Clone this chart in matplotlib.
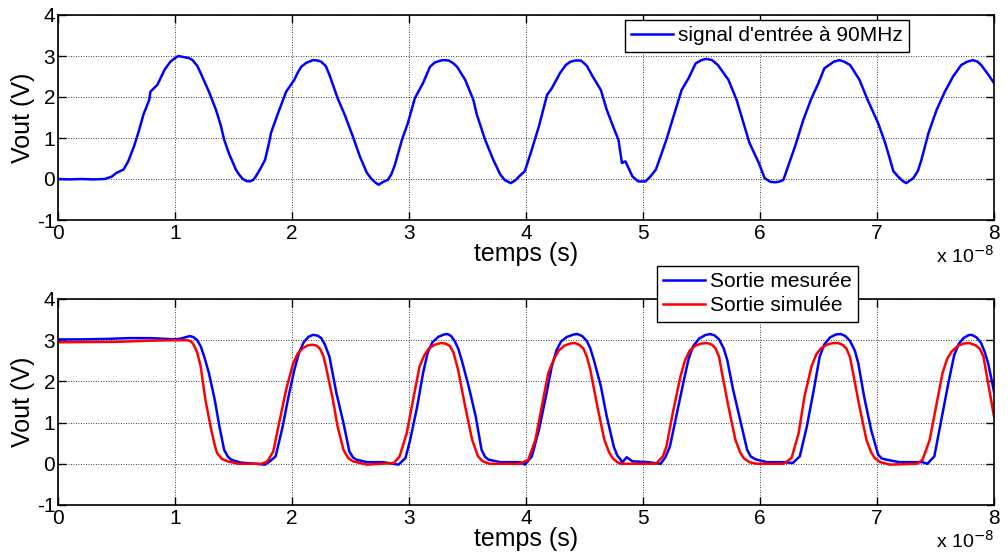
import matplotlib
matplotlib.use("Agg")
import matplotlib.pyplot as plt

plt.rcParams['font.family'] = ['Liberation Sans', 'DejaVu Sans']

# time in units of 1e-8 s, voltage in V
input_signal = [
    (0.0, 0.0), (0.1, -0.01), (0.2, 0.0), (0.3, -0.01), (0.4, 0.0), (0.46, 0.06), (0.50, 0.15), (0.56, 0.23),
    (0.60, 0.43), (0.65, 0.8), (0.69, 1.16), (0.73, 1.57), (0.78, 1.93), (0.79, 2.13), (0.85, 2.3), (0.91, 2.66),
    (0.96, 2.86), (1.00, 2.95), (1.03, 3.0), (1.08, 2.97), (1.12, 2.95), (1.15, 2.9), (1.19, 2.76), (1.22, 2.58),
    (1.29, 2.13), (1.35, 1.69), (1.39, 1.32), (1.42, 0.96), (1.46, 0.63), (1.52, 0.23), (1.55, 0.1), (1.58, 0.0),
    (1.61, -0.05), (1.64, -0.06), (1.67, -0.02), (1.69, 0.06), (1.73, 0.25), (1.77, 0.47), (1.81, 0.96),
    (1.82, 1.12), (1.88, 1.6), (1.95, 2.13), (2.02, 2.42), (2.05, 2.6), (2.08, 2.74), (2.12, 2.83), (2.18, 2.9),
    (2.22, 2.89), (2.25, 2.86), (2.29, 2.75), (2.32, 2.54), (2.39, 1.97), (2.45, 1.57), (2.52, 1.04), (2.58, 0.55),
    (2.64, 0.15), (2.68, 0.0), (2.71, -0.08), (2.74, -0.14), (2.78, -0.07), (2.82, -0.02), (2.85, 0.12),
    (2.88, 0.35), (2.94, 0.96), (2.99, 1.36), (3.05, 1.97), (3.12, 2.34), (3.18, 2.74), (3.22, 2.84), (3.26, 2.88),
    (3.29, 2.9), (3.34, 2.89), (3.38, 2.82), (3.41, 2.74), (3.48, 2.42), (3.55, 1.93), (3.58, 1.57), (3.65, 0.96),
    (3.72, 0.47), (3.78, 0.11), (3.82, -0.03), (3.87, -0.1), (3.91, -0.03), (3.94, 0.06), (3.99, 0.19),
    (4.04, 0.63), (4.11, 1.28), (4.18, 2.05), (4.22, 2.21), (4.29, 2.58), (4.34, 2.78), (4.38, 2.86), (4.42, 2.89),
    (4.47, 2.89), (4.52, 2.76), (4.57, 2.5), (4.64, 2.17), (4.69, 1.69), (4.75, 1.24), (4.79, 0.96), (4.82, 0.39),
    (4.85, 0.43), (4.91, 0.06), (4.96, -0.06), (5.02, -0.06), (5.06, 0.05), (5.11, 0.23), (5.15, 0.55),
    (5.20, 0.96), (5.26, 1.52), (5.33, 2.17), (5.39, 2.46), (5.45, 2.82), (5.50, 2.9), (5.54, 2.93), (5.59, 2.9),
    (5.64, 2.78), (5.73, 2.42), (5.80, 1.93), (5.86, 1.36), (5.91, 0.88), (5.99, 0.39), (6.04, 0.02),
    (6.09, -0.07), (6.13, -0.08), (6.17, -0.06), (6.20, -0.02), (6.24, 0.31), (6.30, 0.8), (6.37, 1.44),
    (6.44, 1.97), (6.50, 2.34), (6.55, 2.7), (6.63, 2.86), (6.68, 2.9), (6.72, 2.86), (6.77, 2.78), (6.85, 2.42),
    (6.92, 1.93), (7.01, 1.36), (7.07, 0.88), (7.14, 0.19), (7.18, 0.06), (7.22, -0.05), (7.25, -0.1),
    (7.28, -0.04), (7.31, 0.02), (7.35, 0.2), (7.38, 0.47), (7.44, 1.12), (7.51, 1.69), (7.58, 2.13), (7.65, 2.5),
    (7.72, 2.78), (7.77, 2.86), (7.82, 2.9), (7.86, 2.86), (7.89, 2.78), (7.95, 2.55), (8.0, 2.34),
]

measured_output = [
    (0.0, 3.02), (0.2, 3.02), (0.4, 3.03), (0.6, 3.05), (0.8, 3.05), (1.0, 3.02), (1.05, 3.04), (1.10, 3.08),
    (1.13, 3.10), (1.16, 3.07), (1.19, 3.0), (1.22, 2.85), (1.25, 2.6), (1.29, 2.2), (1.34, 1.55), (1.38, 0.9),
    (1.42, 0.34), (1.45, 0.18), (1.48, 0.10), (1.56, 0.03), (1.68, 0.0), (1.77, -0.02), (1.81, 0.06),
    (1.86, 0.18), (1.92, 0.9), (1.97, 1.63), (2.02, 2.28), (2.06, 2.7), (2.10, 2.95), (2.14, 3.08), (2.18, 3.13),
    (2.22, 3.11), (2.25, 3.05), (2.28, 2.9), (2.32, 2.6), (2.38, 1.71), (2.44, 0.99), (2.49, 0.3), (2.52, 0.16),
    (2.55, 0.1), (2.64, 0.04), (2.78, 0.04), (2.91, -0.02), (2.97, 0.14), (3.01, 0.58), (3.07, 1.39), (3.12, 2.2),
    (3.16, 2.7), (3.20, 2.95), (3.25, 3.08), (3.30, 3.14), (3.33, 3.15), (3.36, 3.1), (3.39, 2.98), (3.42, 2.8),
    (3.45, 2.52), (3.51, 1.88), (3.57, 1.15), (3.62, 0.34), (3.65, 0.17), (3.68, 0.1), (3.78, 0.04),
    (3.95, 0.04), (3.99, -0.02), (4.05, 0.18), (4.11, 0.82), (4.17, 1.63), (4.22, 2.36), (4.26, 2.75),
    (4.30, 2.97), (4.35, 3.08), (4.41, 3.14), (4.44, 3.15), (4.48, 3.1), (4.52, 2.98), (4.55, 2.8), (4.58, 2.52),
    (4.64, 1.88), (4.69, 1.15), (4.75, 0.42), (4.78, 0.2), (4.81, 0.1), (4.82, 0.02), (4.86, 0.16), (4.91, 0.06),
    (5.04, 0.04), (5.15, 0.0), (5.19, 0.15), (5.23, 0.42), (5.29, 1.23), (5.35, 2.04), (5.39, 2.55), (5.43, 2.86),
    (5.48, 3.04), (5.53, 3.12), (5.57, 3.15), (5.61, 3.12), (5.65, 3.02), (5.69, 2.8), (5.72, 2.52), (5.77, 1.8),
    (5.83, 1.07), (5.89, 0.34), (5.92, 0.18), (5.96, 0.11), (6.06, 0.04), (6.20, 0.04), (6.28, 0.02),
    (6.34, 0.18), (6.40, 0.9), (6.46, 1.8), (6.51, 2.6), (6.55, 2.9), (6.60, 3.07), (6.65, 3.14), (6.69, 3.15),
    (6.73, 3.1), (6.77, 2.98), (6.81, 2.75), (6.84, 2.44), (6.89, 1.63), (6.95, 0.82), (7.01, 0.22),
    (7.04, 0.13), (7.08, 0.1), (7.19, 0.04), (7.39, 0.04), (7.43, 0.0), (7.49, 0.18), (7.55, 1.07), (7.61, 1.96),
    (7.66, 2.64), (7.70, 2.92), (7.74, 3.05), (7.78, 3.12), (7.81, 3.13), (7.85, 3.07), (7.89, 2.93),
    (7.92, 2.72), (7.95, 2.44), (8.0, 1.75),
]

simulated_output = [
    (0.0, 2.95), (0.5, 2.96), (0.8, 2.99), (1.0, 3.0), (1.11, 3.0), (1.14, 2.96), (1.16, 2.89), (1.19, 2.7),
    (1.22, 2.36), (1.26, 1.55), (1.31, 0.82), (1.34, 0.45), (1.36, 0.26), (1.40, 0.12), (1.45, 0.06),
    (1.54, 0.0), (1.74, 0.0), (1.79, 0.06), (1.84, 0.3), (1.89, 0.99), (1.95, 1.8), (2.01, 2.44), (2.05, 2.68),
    (2.09, 2.8), (2.13, 2.87), (2.17, 2.89), (2.21, 2.87), (2.24, 2.79), (2.27, 2.6), (2.29, 2.36), (2.35, 1.55),
    (2.39, 0.9), (2.44, 0.34), (2.48, 0.14), (2.52, 0.06), (2.64, -0.02), (2.87, 0.02), (2.92, 0.18),
    (2.98, 0.74), (3.04, 1.63), (3.09, 2.36), (3.13, 2.63), (3.17, 2.8), (3.22, 2.89), (3.27, 2.93), (3.31, 2.92),
    (3.35, 2.86), (3.38, 2.7), (3.42, 2.28), (3.48, 1.39), (3.54, 0.58), (3.59, 0.18), (3.63, 0.06), (3.69, 0.0),
    (3.95, 0.0), (4.02, 0.1), (4.08, 0.58), (4.14, 1.47), (4.19, 2.2), (4.24, 2.55), (4.28, 2.75), (4.33, 2.87),
    (4.38, 2.92), (4.42, 2.93), (4.46, 2.88), (4.49, 2.8), (4.52, 2.6), (4.55, 2.28), (4.61, 1.39), (4.67, 0.58),
    (4.71, 0.28), (4.74, 0.14), (4.78, 0.04), (4.81, 0.0), (5.11, 0.0), (5.17, 0.18), (5.20, 0.42), (5.26, 1.31),
    (5.32, 2.12), (5.36, 2.52), (5.40, 2.75), (5.45, 2.87), (5.50, 2.92), (5.55, 2.93), (5.59, 2.89), (5.62, 2.8),
    (5.65, 2.6), (5.67, 2.28), (5.73, 1.39), (5.79, 0.58), (5.83, 0.28), (5.86, 0.14), (5.91, 0.04), (5.97, 0.0),
    (6.20, 0.0), (6.27, 0.14), (6.33, 0.74), (6.38, 1.63), (6.44, 2.36), (6.48, 2.65), (6.52, 2.8), (6.57, 2.89),
    (6.62, 2.93), (6.67, 2.93), (6.71, 2.88), (6.74, 2.79), (6.77, 2.58), (6.79, 2.28), (6.85, 1.39),
    (6.91, 0.58), (6.95, 0.28), (6.98, 0.14), (7.03, 0.04), (7.11, -0.02), (7.34, 0.0), (7.39, 0.1), (7.45, 0.58),
    (7.51, 1.47), (7.56, 2.2), (7.60, 2.55), (7.64, 2.73), (7.69, 2.86), (7.74, 2.92), (7.79, 2.93), (7.84, 2.88),
    (7.88, 2.79), (7.91, 2.6), (7.93, 2.28), (8.0, 1.15),
]

t_in, v_in = zip(*input_signal)
t_mes, v_mes = zip(*measured_output)
t_sim, v_sim = zip(*simulated_output)

x_ticks = [0, 1, 2, 3, 4, 5, 6, 7, 8]
y_ticks = [-1, 0, 1, 2, 3, 4]
xlabel = "temps (s)"
ylabel = "Vout (V)"
scale_label = "x 10$^{-8}$"

W, H = 1008, 559
fig = plt.figure(figsize=(W / 100, H / 100), dpi=100)

def px_axes(l, t, r, b):
    return fig.add_axes([l / W, 1 - b / H, (r - l) / W, (b - t) / H])

ax1 = px_axes(58, 15, 994, 220)
ax2 = px_axes(58, 299, 994, 505)

BLUE = '#0000ff'
RED = '#ff0000'

ax1.plot(t_in, v_in, color=BLUE, lw=1.8, label="signal d'entrée à 90MHz")
ax2.plot(t_mes, v_mes, color=BLUE, lw=1.8, label="Sortie mesurée")
ax2.plot(t_sim, v_sim, color=RED, lw=1.8, label="Sortie simulée")

for ax in (ax1, ax2):
    ax.set_xlim(0, 8)
    ax.set_ylim(-1, 4)
    ax.set_xticks(x_ticks)
    ax.set_yticks(y_ticks)
    ax.set_xticklabels([str(v) for v in x_ticks])
    ax.set_yticklabels([str(v) for v in y_ticks])
    ax.grid(True, color='black', ls=(0, (1, 2)), lw=0.6)
    ax.tick_params(direction='in', top=True, right=True, length=6, width=1,
                   labelsize=15, pad=2)
    ax.tick_params(axis='x', pad=3)
    for s in ax.spines.values():
        s.set_linewidth(1.2)
    ax.set_xlabel(xlabel, fontsize=18, labelpad=-1)
    ax.set_ylabel(ylabel, fontsize=18, labelpad=1)
    ax.text(1.0, -0.12, scale_label, transform=ax.transAxes, ha='right', va='top', fontsize=14)

leg1 = ax1.legend(loc='upper left', bbox_to_anchor=(625 / W, 1 - 20 / H), bbox_transform=fig.transFigure,
                  fancybox=False, edgecolor='black', framealpha=1, fontsize=15, handlelength=2.0,
                  handletextpad=0.25, borderpad=0.3, borderaxespad=0)
leg1.get_frame().set_linewidth(1.0)
leg2 = ax2.legend(loc='upper left', bbox_to_anchor=(657 / W, 1 - 266 / H), bbox_transform=fig.transFigure,
                  fancybox=False, edgecolor='black', framealpha=1, fontsize=15, handlelength=2.0,
                  handletextpad=0.25, borderpad=0.3, borderaxespad=0, labelspacing=0.25)
leg2.get_frame().set_linewidth(1.0)

fig.savefig("out.png", dpi=100)
